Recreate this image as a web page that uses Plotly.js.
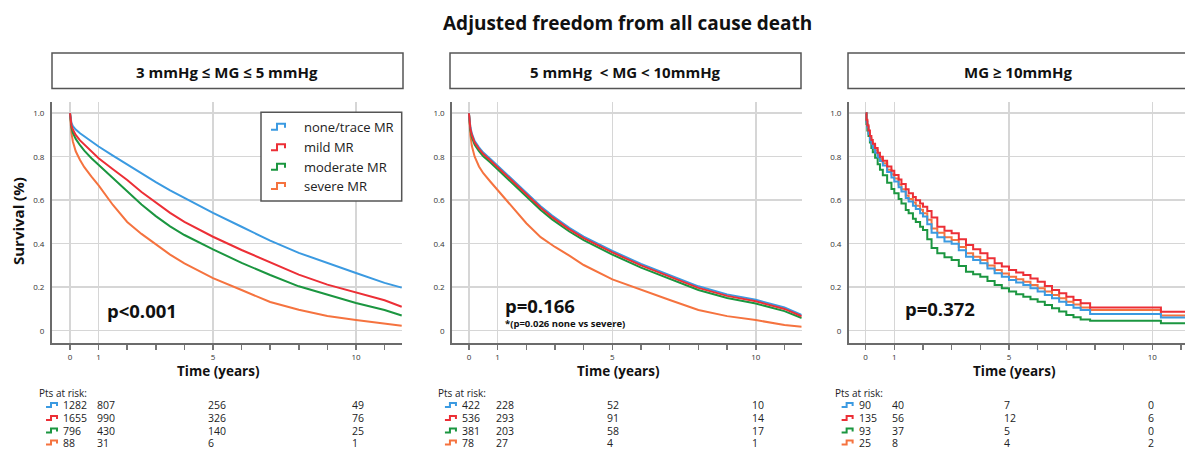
<!DOCTYPE html>
<html>
<head>
<meta charset="utf-8">
<script src="https://cdn.plot.ly/plotly-3.0.1.min.js"></script>
<style>html,body{margin:0;padding:0;background:#fff;}#chart{width:1185px;height:449px;}</style>
</head>
<body>
<div id="chart"></div>
<script>
// ---------------- DATA ----------------
const groups = ["none/trace MR", "mild MR", "moderate MR", "severe MR"];
const panelTitles = ["3 mmHg \u2264 MG \u2264 5 mmHg", "5 mmHg  < MG < 10mmHg", "MG \u2265 10mmHg"];
const pLabels = ["p<0.001", "p=0.166", "p=0.372"];
const pNote2 = "*(p=0.026 none vs severe)";

// Panel 1: 3-5 mmHg
const t1 = [0, 0.02, 0.05, 0.1, 0.2, 0.35, 0.5, 0.75, 1, 1.5, 2, 2.5, 3, 3.5, 4, 5, 6, 7, 8, 9, 10, 11, 11.6];
const p1None     = [1, 0.975, 0.955, 0.94, 0.925, 0.908, 0.893, 0.87, 0.847, 0.805, 0.764, 0.722, 0.683, 0.645, 0.61, 0.542, 0.478, 0.414, 0.358, 0.31, 0.265, 0.22, 0.198];
const p1Mild     = [1, 0.97, 0.945, 0.925, 0.9, 0.875, 0.855, 0.823, 0.793, 0.742, 0.693, 0.638, 0.588, 0.542, 0.50, 0.432, 0.371, 0.315, 0.258, 0.212, 0.175, 0.14, 0.11];
const p1Moderate = [1, 0.965, 0.935, 0.91, 0.882, 0.853, 0.828, 0.793, 0.762, 0.70, 0.64, 0.58, 0.527, 0.48, 0.44, 0.374, 0.312, 0.256, 0.204, 0.164, 0.127, 0.095, 0.07];
const p1Severe   = [1, 0.95, 0.91, 0.87, 0.825, 0.785, 0.752, 0.708, 0.668, 0.578, 0.50, 0.445, 0.398, 0.35, 0.31, 0.242, 0.187, 0.132, 0.096, 0.068, 0.049, 0.031, 0.023];

// Panel 2: 5-10 mmHg
const t2 = [0, 0.02, 0.05, 0.1, 0.2, 0.35, 0.5, 0.75, 1, 1.5, 2, 2.5, 2.9, 3, 3.5, 4, 5, 6, 7, 8, 9, 10, 11, 11.6];
const p2None     = [1, 0.97, 0.937, 0.907, 0.872, 0.843, 0.819, 0.79, 0.759, 0.695, 0.632, 0.572, 0.529, 0.519, 0.473, 0.433, 0.367, 0.307, 0.257, 0.204, 0.167, 0.142, 0.107, 0.072];
const p2Mild     = [1, 0.965, 0.93, 0.9, 0.865, 0.836, 0.812, 0.783, 0.752, 0.688, 0.625, 0.565, 0.522, 0.512, 0.466, 0.426, 0.36, 0.30, 0.25, 0.197, 0.16, 0.135, 0.10, 0.066];
const p2Moderate = [1, 0.96, 0.922, 0.89, 0.855, 0.826, 0.802, 0.773, 0.742, 0.678, 0.615, 0.555, 0.512, 0.502, 0.456, 0.416, 0.35, 0.29, 0.24, 0.187, 0.15, 0.125, 0.09, 0.058];
const p2Severe   = [1, 0.95, 0.9, 0.85, 0.8, 0.755, 0.724, 0.685, 0.647, 0.57, 0.494, 0.43, 0.394, 0.385, 0.345, 0.302, 0.236, 0.187, 0.141, 0.095, 0.067, 0.049, 0.026, 0.018];

// Panel 3: >= 10 mmHg (stepped)
const t3 = [0, 0.03, 0.06, 0.1, 0.15, 0.2, 0.25, 0.33, 0.42, 0.5,
            0.6, 0.75, 0.9, 1, 1.15, 1.25, 1.4, 1.5, 1.65, 1.75,
            1.9, 2, 2.15, 2.3, 2.5, 2.75, 3, 3.25, 3.5, 3.75,
            4, 4.25, 4.5, 4.75, 5, 5.25, 5.5, 5.75, 6, 6.25,
            6.5, 6.75, 7, 7.25, 7.5, 7.83, 10.3, 11.2];
const p3None     = [1, 0.96, 0.935, 0.905, 0.875, 0.857, 0.84, 0.818, 0.797, 0.78,
                    0.76, 0.73, 0.705, 0.686, 0.66, 0.64, 0.61, 0.594, 0.575, 0.56,
                    0.54, 0.525, 0.49, 0.45, 0.43, 0.41, 0.40, 0.37, 0.34, 0.325,
                    0.31, 0.286, 0.264, 0.248, 0.233, 0.222, 0.21, 0.195, 0.18, 0.164,
                    0.149, 0.133, 0.118, 0.106, 0.095, 0.077, 0.061, 0.061];
const p3Mild     = [1, 0.97, 0.945, 0.92, 0.895, 0.877, 0.86, 0.84, 0.818, 0.80,
                    0.782, 0.755, 0.735, 0.716, 0.695, 0.675, 0.65, 0.632, 0.615, 0.60,
                    0.585, 0.57, 0.55, 0.52, 0.478, 0.46, 0.448, 0.42, 0.394, 0.375,
                    0.356, 0.333, 0.31, 0.295, 0.279, 0.268, 0.256, 0.24, 0.225, 0.206,
                    0.187, 0.172, 0.156, 0.141, 0.126, 0.107, 0.087, 0.087];
const p3Moderate = [1, 0.95, 0.92, 0.895, 0.865, 0.84, 0.82, 0.795, 0.765, 0.74,
                    0.715, 0.68, 0.652, 0.632, 0.605, 0.585, 0.555, 0.54, 0.515, 0.50,
                    0.478, 0.463, 0.42, 0.38, 0.356, 0.338, 0.325, 0.298, 0.271, 0.26,
                    0.248, 0.228, 0.21, 0.195, 0.18, 0.168, 0.156, 0.145, 0.133, 0.118,
                    0.103, 0.088, 0.072, 0.062, 0.052, 0.046, 0.034, 0.034];
const p3Severe   = [1, 0.965, 0.94, 0.91, 0.885, 0.867, 0.85, 0.83, 0.808, 0.79,
                    0.77, 0.74, 0.718, 0.70, 0.672, 0.65, 0.622, 0.606, 0.59, 0.575,
                    0.556, 0.54, 0.51, 0.47, 0.45, 0.43, 0.417, 0.385, 0.356, 0.34,
                    0.325, 0.30, 0.279, 0.263, 0.248, 0.237, 0.225, 0.21, 0.195, 0.18,
                    0.164, 0.149, 0.133, 0.12, 0.107, 0.095, 0.07, 0.07];

// Patients at risk (rows: none, mild, moderate, severe; columns at riskTimes)
const riskTimes = [0, 1, 5, 10];
const riskP1 = [[1282, 807, 256, 49], [1655, 990, 326, 76], [796, 430, 140, 25], [88, 31, 6, 1]];
const riskP2 = [[422, 228, 52, 10], [536, 293, 91, 14], [381, 203, 58, 17], [78, 27, 4, 1]];
const riskP3 = [[90, 40, 7, 0], [135, 56, 12, 6], [93, 37, 5, 0], [25, 8, 4, 2]];

const xTickVals = [0, 1, 5, 10];
const yTickVals = [0, 0.2, 0.4, 0.6, 0.8, 1];
const yTickText = ["0", "0.2", "0.4", "0.6", "0.8", "1.0"];

// ---------------- STYLE / LAYOUT ----------------
const W = 1185, H = 449;
const colors = ["#3b9ae1", "#ec2f36", "#1b9640", "#f5733f"];
const FONT = "Open Sans, Noto Sans, sans-serif";
const px = x => x / W;
const py = y => 1 - y / H;

const panels = [
  { t: t1, series: [p1None, p1Mild, p1Moderate, p1Severe], risk: riskP1, shape: "linear",
    dom: [52, 402], range: [-0.63, 11.61], box: [52, 403] },
  { t: t2, series: [p2None, p2Mild, p2Moderate, p2Severe], risk: riskP2, shape: "linear",
    dom: [452.3, 801.7], range: [-0.58, 11.6], box: [450, 801] },
  { t: t3, series: [p3None, p3Mild, p3Moderate, p3Severe], risk: riskP3, shape: "hv",
    dom: [849, 1185], range: [-0.58, 11.14], box: [848, 1195] }
];
const yDom = [py(343.3), py(101.7)];
const yRange = [-0.058, 1.053];

const traces = [];
const layout = {
  width: W, height: H,
  margin: { l: 0, r: 0, t: 0, b: 0 },
  paper_bgcolor: "#fff", plot_bgcolor: "#fff",
  showlegend: false,
  font: { family: FONT, color: "#222" },
  annotations: [], shapes: []
};

const drawOrder = [3, 2, 0, 1];
panels.forEach((p, i) => {
  const xa = i === 0 ? "x" : "x" + (i + 1);
  const ya = i === 0 ? "y" : "y" + (i + 1);
  drawOrder.forEach(g => {
    traces.push({
      type: "scatter", mode: "lines", x: p.t, y: p.series[g], name: groups[g],
      xaxis: xa, yaxis: ya,
      line: { color: colors[g], width: 2, shape: p.shape },
      hoverinfo: "skip"
    });
  });
  const xk = i === 0 ? "xaxis" : "xaxis" + (i + 1);
  const yk = i === 0 ? "yaxis" : "yaxis" + (i + 1);
  layout[xk] = {
    domain: [px(p.dom[0]), px(p.dom[1])], range: p.range, anchor: ya,
    tickmode: "array", tickvals: xTickVals, ticktext: xTickVals.map(String),
    ticks: "outside", ticklen: 5, tickwidth: 1.5, tickcolor: "#777",
    tickfont: { size: 8, color: "#333", family: FONT },
    showgrid: true, gridcolor: "#d6d6d6", gridwidth: 1.5,
    minor: { dtick: 1, tick0: 0, ticks: "outside", ticklen: 5, tickwidth: 1.5, tickcolor: "#777", showgrid: false },
    showline: true, linecolor: "#6b6b6b", linewidth: 2, zeroline: false, fixedrange: true
  };
  layout[yk] = {
    domain: yDom, range: yRange, anchor: xa,
    tickmode: "array", tickvals: yTickVals, ticktext: yTickText,
    ticks: "", ticklabelstandoff: 4,
    tickfont: { size: 8, color: "#333", family: FONT },
    showgrid: true, gridcolor: "#d6d6d6", gridwidth: 1.5,
    showline: true, linecolor: "#6b6b6b", linewidth: 2, zeroline: false, fixedrange: true
  };

  // panel header box + title
  layout.shapes.push({ type: "rect", xref: "paper", yref: "paper",
    x0: px(p.box[0]), x1: px(p.box[1]), y0: py(88.5), y1: py(53),
    line: { color: "#555", width: 1.5 }, fillcolor: "rgba(0,0,0,0)" });
  layout.annotations.push({ xref: "paper", yref: "paper",
    x: i === 2 ? px(1018) : px((p.box[0] + p.box[1]) / 2), y: py(71.5),
    text: "<b>" + panelTitles[i] + "</b>", showarrow: false,
    xanchor: "center", yanchor: "middle", font: { size: 15, color: "#111", family: FONT } });

  // x axis title
  layout.annotations.push({ xref: xa, yref: "paper", x: 5.2, y: py(371),
    text: "<b>Time (years)</b>", showarrow: false, xanchor: "center", yanchor: "middle",
    font: { size: 13.5, color: "#111", family: FONT } });

  // p value
  const pxPos = [1.22, 1.19, 1.31][i];
  const pyPos = [0.095, 0.118, 0.103][i];
  layout.annotations.push({ xref: xa, yref: ya, x: pxPos, y: pyPos,
    text: "<b>" + pLabels[i] + "</b>", showarrow: false, xanchor: "left", yanchor: "middle",
    font: { size: 18.5, color: "#111", family: FONT } });
  if (i === 1) {
    layout.annotations.push({ xref: xa, yref: ya, x: pxPos, y: 0.034,
      text: "<b>" + pNote2 + "</b>", showarrow: false, xanchor: "left", yanchor: "middle",
      font: { size: 9.5, color: "#111", family: FONT } });
  }

  // at-risk table
  const x0px = p.dom[0] + (0 - p.range[0]) / (p.range[1] - p.range[0]) * (p.dom[1] - p.dom[0]);
  layout.annotations.push({ xref: "paper", yref: "paper", x: px(x0px - 33), y: py(393),
    text: "Pts at risk:", showarrow: false, xanchor: "left", yanchor: "middle",
    font: { size: 10, color: "#222", family: FONT } });
  const rowY = [405, 418, 430.5, 442.5];
  const colShift = [-9, -4, -7, -6];
  p.risk.forEach((row, r) => {
    const ix = x0px - 24, iy = rowY[r];
    layout.shapes.push({ type: "path", xref: "paper", yref: "paper",
      path: `M ${px(ix)} ${py(iy + 2)} L ${px(ix + 5)} ${py(iy + 2)} L ${px(ix + 5)} ${py(iy - 2)} L ${px(ix + 11)} ${py(iy - 2)} L ${px(ix + 11)} ${py(iy + 1)}`,
      line: { color: colors[r], width: 2 } });
    row.forEach((v, c) => {
      layout.annotations.push({ xref: xa, yref: "paper", x: riskTimes[c], y: py(iy),
        xshift: colShift[c], text: String(v), showarrow: false, xanchor: "left", yanchor: "middle",
        font: { size: 10.5, color: "#222", family: FONT } });
    });
  });
});

// main title
layout.annotations.push({ xref: "paper", yref: "paper", x: px(627), y: py(23),
  text: "<b>Adjusted freedom from all cause death</b>", showarrow: false,
  xanchor: "center", yanchor: "middle", font: { size: 19, color: "#111", family: FONT } });

// y axis title
layout.annotations.push({ xref: "paper", yref: "paper", x: px(18), y: py(221),
  text: "<b>Survival (%)</b>", showarrow: false, textangle: -90,
  xanchor: "center", yanchor: "middle", font: { size: 15, color: "#111", family: FONT } });

// legend (panel 1)
layout.shapes.push({ type: "rect", xref: "paper", yref: "paper", layer: "above",
  x0: px(261), x1: px(401.7), y0: py(201), y1: py(112.3),
  line: { color: "#555", width: 1.5 }, fillcolor: "#fff" });
const legRows = [126.7, 147.3, 166.7, 186];
groups.forEach((g, k) => {
  const ix = 271, iy = legRows[k];
  layout.shapes.push({ type: "path", xref: "paper", yref: "paper", layer: "above",
    path: `M ${px(ix)} ${py(iy + 3)} L ${px(ix + 6)} ${py(iy + 3)} L ${px(ix + 6)} ${py(iy - 3)} L ${px(ix + 14)} ${py(iy - 3)} L ${px(ix + 14)} ${py(iy + 1)}`,
    line: { color: colors[k], width: 2 } });
  layout.annotations.push({ xref: "paper", yref: "paper", x: px(301.7), y: py(iy),
    text: g, showarrow: false, xanchor: "left", yanchor: "middle",
    font: { size: 13, color: "#222", family: FONT } });
});

Plotly.newPlot("chart", traces, layout, { staticPlot: true, displayModeBar: false });
</script>
</body>
</html>
